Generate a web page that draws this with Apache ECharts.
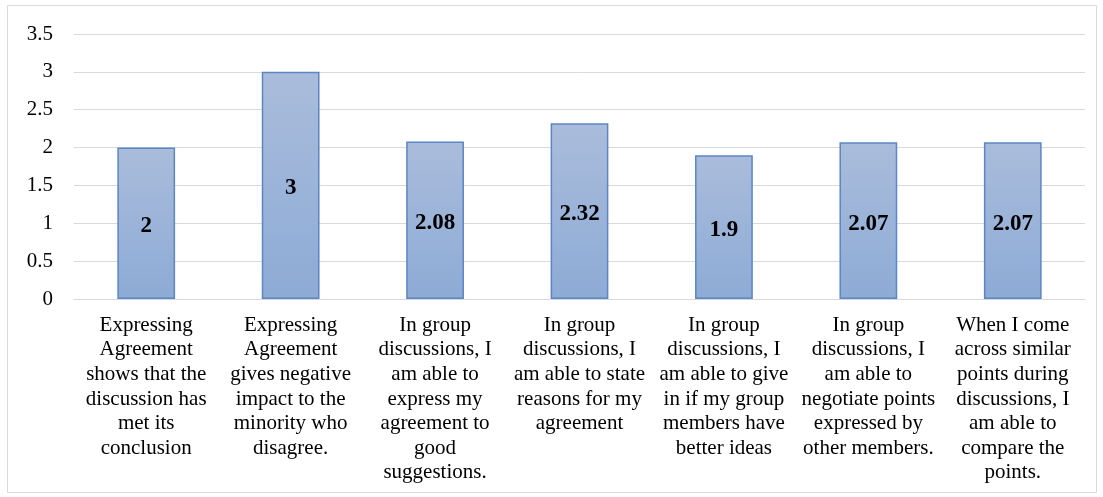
<!DOCTYPE html>
<html>
<head>
<meta charset="utf-8">
<script src="https://cdn.jsdelivr.net/npm/echarts@6/dist/echarts.min.js"></script>
<style>
  html, body { margin: 0; padding: 0; background: #fff; }
  #chart { width: 1103px; height: 497px; }
</style>
</head>
<body>
<div id="chart"></div>
<script>
// categories, already broken into lines as in the source figure
const categories = [
  'Expressing\nAgreement\nshows that the\ndiscussion has\nmet its\nconclusion',
  'Expressing\nAgreement\ngives negative\nimpact to the\nminority who\ndisagree.',
  'In group\ndiscussions, I\nam able to\nexpress my\nagreement to\ngood\nsuggestions.',
  'In group\ndiscussions, I\nam able to state\nreasons for my\nagreement',
  'In group\ndiscussions, I\nam able to give\nin if my group\nmembers have\nbetter ideas',
  'In group\ndiscussions, I\nam able to\nnegotiate points\nexpressed by\nother members.',
  'When I come\nacross similar\npoints during\ndiscussions, I\nam able to\ncompare the\npoints.'
];
const meanScores = [2, 3, 2.08, 2.32, 1.9, 2.07, 2.07];
const yTicks = [0, 0.5, 1, 1.5, 2, 2.5, 3, 3.5];

const serif = '"Liberation Serif", "DejaVu Serif", serif';

const chart = echarts.init(document.getElementById('chart'));

const option = {
  animation: false,
  textStyle: { fontFamily: serif },
  graphic: [
    {
      type: 'rect',
      shape: { x: 7.5, y: 5.5, width: 1089, height: 487 },
      style: { fill: 'none', stroke: '#d9d9d9', lineWidth: 1 },
      silent: true
    }
  ],
  grid: {
    left: 74,
    right: 18,
    top: 34,
    bottom: 198
  },
  xAxis: {
    type: 'category',
    data: categories,
    axisLine: { show: true, lineStyle: { color: '#d9d9d9', width: 1 } },
    axisTick: { show: false },
    axisLabel: {
      interval: 0,
      margin: 14,
      color: '#000',
      fontFamily: serif,
      fontSize: 21,
      lineHeight: 24.6,
      align: 'center'
    }
  },
  yAxis: {
    type: 'value',
    min: yTicks[0],
    max: yTicks[yTicks.length - 1],
    interval: 0.5,
    axisLine: { show: false },
    axisTick: { show: false },
    splitLine: { lineStyle: { color: '#d9d9d9', width: 1 } },
    axisLabel: {
      color: '#000',
      fontFamily: serif,
      fontSize: 21,
      margin: 21
    }
  },
  series: [
    {
      type: 'bar',
      data: meanScores,
      barWidth: '40%',
      itemStyle: {
        color: new echarts.graphic.LinearGradient(0, 0, 0, 1, [
          { offset: 0, color: '#aabcdb' },
          { offset: 1, color: '#8dabd6' }
        ]),
        borderColor: '#5b86c4',
        borderWidth: 1.5
      },
      label: {
        show: true,
        position: 'inside',
        offset: [0, 3],
        color: '#000',
        fontFamily: serif,
        fontWeight: 'bold',
        fontSize: 23
      }
    }
  ]
};

chart.setOption(option);
</script>
</body>
</html>
